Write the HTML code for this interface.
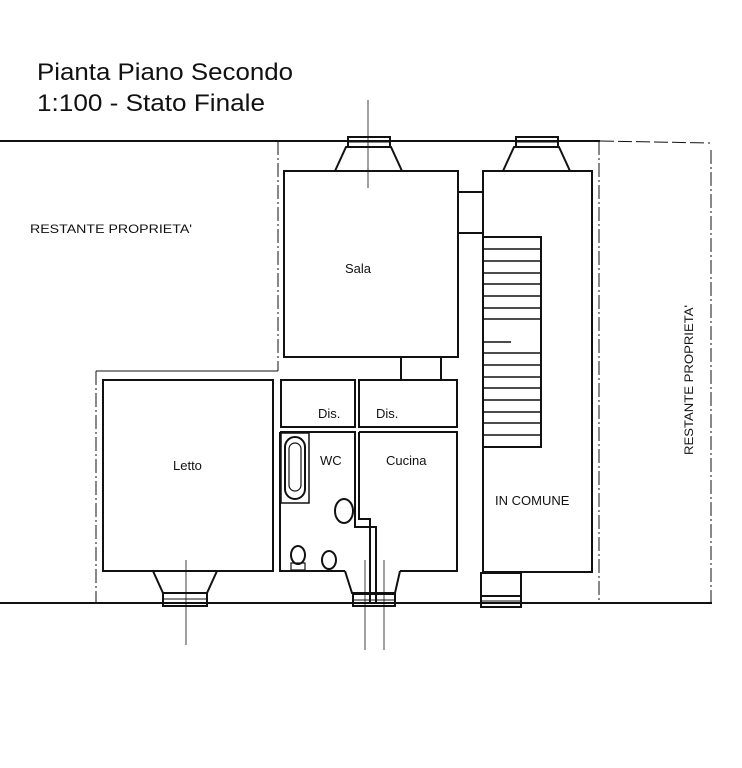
<!DOCTYPE html>
<html><head><style>
body{margin:0;background:#fff;}
svg{display:block;font-family:"Liberation Sans",sans-serif;}
</style></head><body>
<svg width="742" height="768" viewBox="0 0 742 768" xmlns="http://www.w3.org/2000/svg">
<rect width="742" height="768" fill="#fff"/>
<text x="37" y="80" font-size="24" fill="#111" textLength="256" lengthAdjust="spacingAndGlyphs">Pianta Piano Secondo</text>
<text x="37" y="111" font-size="24" fill="#111" textLength="228" lengthAdjust="spacingAndGlyphs">1:100 - Stato Finale</text>
<text x="30" y="233" font-size="12" fill="#111" textLength="162" lengthAdjust="spacingAndGlyphs">RESTANTE PROPRIETA'</text>
<text transform="translate(693,455) rotate(-90)" font-size="12" fill="#111" textLength="150" lengthAdjust="spacingAndGlyphs">RESTANTE PROPRIETA'</text>
<g stroke="#111" fill="none">
<line x1="0" y1="141" x2="600" y2="141" stroke-width="2"/>
<line x1="0" y1="603" x2="712" y2="603" stroke-width="2"/>
<line x1="600" y1="141" x2="710" y2="143" stroke-width="1" stroke-dasharray="14,4"/>
<line x1="599" y1="141" x2="599" y2="603" stroke-width="1" stroke-dasharray="14,3,2,3"/>
<line x1="711" y1="150" x2="711" y2="603" stroke-width="1" stroke-dasharray="14,3,2,3"/>
<line x1="278" y1="141" x2="278" y2="371" stroke-width="1" stroke-dasharray="14,3,2,3"/>
<line x1="96" y1="371" x2="278" y2="371" stroke-width="1"/>
<line x1="96" y1="371" x2="96" y2="603" stroke-width="1" stroke-dasharray="14,3,2,3"/>
<line x1="368" y1="100" x2="368" y2="188" stroke-width="0.8"/>
<line x1="186" y1="560" x2="186" y2="645" stroke-width="0.8"/>
<line x1="365" y1="560" x2="365" y2="650" stroke-width="0.8"/>
<line x1="384" y1="560" x2="384" y2="650" stroke-width="0.8"/>
<g stroke-width="2">
<rect x="284" y="171" width="174" height="186"/>
<rect x="483" y="171" width="109" height="401"/>
<line x1="458" y1="192" x2="483" y2="192"/>
<line x1="458" y1="233" x2="483" y2="233"/>
<line x1="401" y1="357" x2="401" y2="380"/>
<line x1="441" y1="357" x2="441" y2="380"/>
<rect x="103" y="380" width="170" height="191"/>
<rect x="281" y="380" width="74" height="47"/>
<rect x="359" y="380" width="98" height="47"/>
<path d="M280 432 H355 V527 H376 V603 M280 432 V571 H345"/>
<path d="M359 432 H457 V571 H400 M359 432 V519 H370 V603"/>
<path d="M484 237 H541 V447 H484"/>
</g>
<g stroke-width="1.5">
<line x1="484" y1="249" x2="541" y2="249"/>
<line x1="484" y1="261" x2="541" y2="261"/>
<line x1="484" y1="273" x2="541" y2="273"/>
<line x1="484" y1="284" x2="541" y2="284"/>
<line x1="484" y1="296" x2="541" y2="296"/>
<line x1="484" y1="308" x2="541" y2="308"/>
<line x1="484" y1="319" x2="541" y2="319"/>
<line x1="484" y1="342" x2="511" y2="342"/>
<line x1="484" y1="353" x2="541" y2="353"/>
<line x1="484" y1="365" x2="541" y2="365"/>
<line x1="484" y1="377" x2="541" y2="377"/>
<line x1="484" y1="388" x2="541" y2="388"/>
<line x1="484" y1="400" x2="541" y2="400"/>
<line x1="484" y1="412" x2="541" y2="412"/>
<line x1="484" y1="423" x2="541" y2="423"/>
<line x1="484" y1="435" x2="541" y2="435"/>
</g>
<g stroke-width="2">
<path d="M335 171 L346 147 H391 L402 171"/>
<rect x="348" y="137" width="42" height="10"/>
<path d="M503 171 L514 147 H559 L570 171"/>
<rect x="516" y="137" width="42" height="10"/>
<path d="M153 571 L163 593 H207 L217 571"/>
<rect x="163" y="593" width="44" height="13"/>
<path d="M345 571 L352 593 H395 L400 571"/>
<rect x="353" y="594" width="42" height="12"/>
<rect x="481" y="573" width="40" height="23"/>
<rect x="481" y="596" width="40" height="11"/>
</g>
<g stroke-width="1">
<line x1="163" y1="599" x2="207" y2="599"/>
<line x1="353" y1="600" x2="395" y2="600"/>
<line x1="481" y1="601" x2="521" y2="601"/>
<line x1="348" y1="142" x2="390" y2="142"/>
<line x1="516" y1="142" x2="558" y2="142"/>
</g>
<rect x="281" y="433" width="28" height="70" stroke-width="1.5"/>
<rect x="285" y="437" width="20" height="62" rx="10" stroke-width="2"/>
<rect x="289" y="443" width="12" height="48" rx="6" stroke-width="1.2"/>
<ellipse cx="344" cy="511" rx="9" ry="12" stroke-width="2"/>
<ellipse cx="298" cy="555" rx="7" ry="9" stroke-width="2"/>
<rect x="291" y="563" width="14" height="7" stroke-width="1.2"/>
<ellipse cx="329" cy="560" rx="7" ry="9" stroke-width="2"/>
</g>
<g font-size="13" fill="#111">
<text x="345" y="273">Sala</text>
<text x="173" y="470">Letto</text>
<text x="318" y="418">Dis.</text>
<text x="376" y="418">Dis.</text>
<text x="320" y="465">WC</text>
<text x="386" y="465">Cucina</text>
<text x="495" y="505">IN COMUNE</text>
</g>
</svg>
</body></html>
